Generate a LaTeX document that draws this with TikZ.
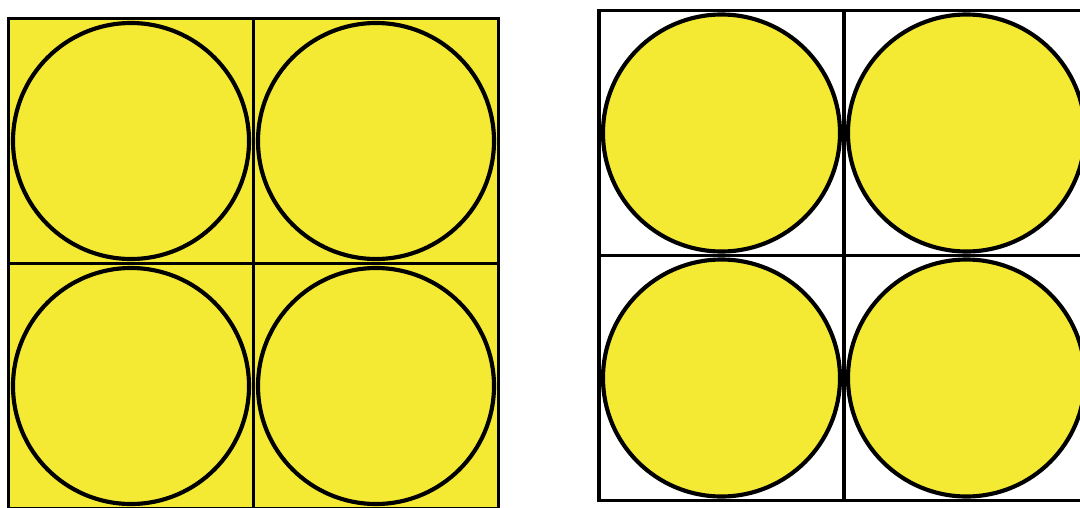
\documentclass[tikz,border=0pt]{standalone}
\usepackage{tikz}
\definecolor{sunyellow}{RGB}{244,234,52}
\begin{document}
\begin{tikzpicture}[x=0.75pt,y=0.75pt,yscale=-1,xscale=1]
        \useasboundingbox (0,0) rectangle (1080,507);
        \clip (0,0) rectangle (1080,507);
        
        %Shape: Square [left, filled]
        \draw [fill=sunyellow, line width=2.7] (8.5,18.5) rectangle (498.5,508.5);
        %Straight Lines [left, middle]
        \draw [line width=2.7] (253.5,18.5) -- (253.5,508.5);
        \draw [line width=2.7] (8.5,263.5) -- (498.5,263.5);
        
        %Shape: Circle [left, top]
        \draw [line width=3.1] (131,141) circle [radius=118];
        \draw [line width=3.1] (376,141) circle [radius=118];
        %Shape: Circle [left, bottom]
        \draw [line width=3.1] (131,386) circle [radius=118];
        \draw [line width=3.1] (376,386) circle [radius=118];
        
        %Shape: Square [right, empty]
        \draw [line width=2.7] (599,10.5) rectangle (1089,500.5);
        %Straight Lines [right, middle]
        \draw [line width=2.7] (844,10.5) -- (844,500.5);
        \draw [line width=2.7] (599,255.5) -- (1089,255.5);
        
        %Shape: Circle [right, top]
        \draw [fill=sunyellow, line width=3.1] (721.5,133) circle [radius=118.5];
        \draw [fill=sunyellow, line width=3.1] (966.5,133) circle [radius=118.5];
        %Shape: Circle [right, bottom]
        \draw [fill=sunyellow, line width=3.1] (721.5,378) circle [radius=118.5];
        \draw [fill=sunyellow, line width=3.1] (966.5,378) circle [radius=118.5];
        
\end{tikzpicture}
\end{document}
